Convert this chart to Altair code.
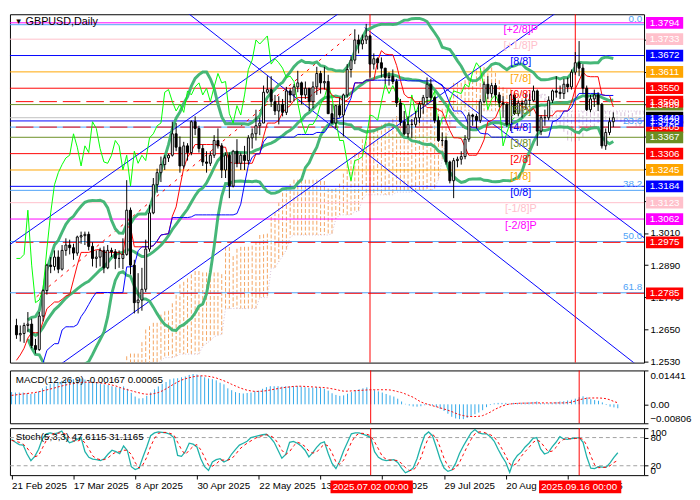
import altair as alt
import pandas as pd

FONT = "Liberation Sans, Arial, sans-serif"
W = 648
HM, HD, HS = 356, 54, 48

# ---------------- price data (GBPUSD daily) ----------------
opens = [1.2665,1.2630,1.2635,1.2665,1.2670,1.2590,1.2575,1.2700,1.2795,1.2890,
1.2885,1.2920,1.2875,1.2945,1.2965,1.2955,1.2935,1.2995,1.3000,1.3005,
1.2960,1.2915,1.2920,1.2945,1.2880,1.2945,1.2940,1.2915,1.2915,1.2930,
1.3095,1.2890,1.2750,1.2760,1.2800,1.2950,1.3085,1.3190,1.3235,1.3265,
1.3290,1.3300,1.3380,1.3330,1.3260,1.3335,1.3310,1.3425,1.3400,1.3325,
1.3275,1.3270,1.3300,1.3355,1.3335,1.3245,1.3300,1.3185,1.3315,1.3270,
1.3300,1.3280,1.3365,1.3380,1.3410,1.3420,1.3535,1.3545,1.3500,1.3465,
1.3490,1.3460,1.3540,1.3525,1.3555,1.3570,1.3525,1.3550,1.3500,1.3555,
1.3605,1.3570,1.3575,1.3455,1.3420,1.3485,1.3450,1.3525,1.3620,1.3655,
1.3730,1.3715,1.3730,1.3745,1.3640,1.3660,1.3645,1.3625,1.3590,1.3595,
1.3575,1.3495,1.3425,1.3380,1.3415,1.3415,1.3440,1.3490,1.3515,1.3565,
1.3515,1.3430,1.3355,1.3355,1.3275,1.3205,1.3280,1.3285,1.3295,1.3360,
1.3450,1.3445,1.3430,1.3500,1.3565,1.3530,1.3560,1.3525,1.3495,1.3490,
1.3415,1.3525,1.3455,1.3495,1.3490,1.3505,1.3505,1.3540,1.3390,1.3440,
1.3440,1.3505,1.3540,1.3535,1.3530,1.3565,1.3555,1.3610,1.3645,1.3625,
1.3550,1.3470,1.3510,1.3525,1.3490,1.3335,1.3385,1.3425]
highs = [1.2690,1.2665,1.2675,1.2715,1.2690,1.2615,1.2715,1.2800,1.2895,1.2920,
1.2945,1.2945,1.2965,1.2990,1.2985,1.2970,1.3000,1.3015,1.3015,1.3015,
1.2975,1.2945,1.2955,1.2960,1.2965,1.2955,1.2950,1.2945,1.2990,1.3207,
1.3105,1.2910,1.2860,1.2880,1.2985,1.3115,1.3215,1.3250,1.3295,1.3300,
1.3305,1.3425,1.3420,1.3370,1.3350,1.3345,1.3430,1.3445,1.3410,1.3340,
1.3315,1.3315,1.3375,1.3400,1.3345,1.3310,1.3310,1.3320,1.3360,1.3310,
1.3335,1.3375,1.3400,1.3470,1.3440,1.3560,1.3595,1.3595,1.3525,1.3520,
1.3510,1.3555,1.3550,1.3565,1.3615,1.3575,1.3575,1.3550,1.3575,1.3630,
1.3615,1.3630,1.3600,1.3490,1.3485,1.3515,1.3530,1.3640,1.3670,1.3770,
1.3750,1.3750,1.3790,1.3750,1.3680,1.3665,1.3665,1.3625,1.3610,1.3620,
1.3585,1.3510,1.3465,1.3445,1.3435,1.3465,1.3500,1.3525,1.3590,1.3585,
1.3520,1.3445,1.3385,1.3370,1.3280,1.3290,1.3295,1.3315,1.3375,1.3460,
1.3455,1.3455,1.3510,1.3575,1.3595,1.3570,1.3570,1.3535,1.3520,1.3495,
1.3530,1.3530,1.3505,1.3505,1.3530,1.3530,1.3560,1.3545,1.3450,1.3470,
1.3520,1.3545,1.3595,1.3560,1.3585,1.3590,1.3620,1.3685,1.3726,1.3640,
1.3560,1.3525,1.3545,1.3535,1.3495,1.3400,1.3440,1.3460]
lows = [1.2615,1.2605,1.2600,1.2640,1.2580,1.2560,1.2570,1.2680,1.2780,1.2860,
1.2870,1.2860,1.2870,1.2925,1.2930,1.2910,1.2925,1.2970,1.2965,1.2945,
1.2885,1.2880,1.2885,1.2860,1.2875,1.2920,1.2875,1.2880,1.2875,1.2925,
1.2855,1.2710,1.2710,1.2720,1.2790,1.2940,1.3080,1.3160,1.3200,1.3245,
1.3275,1.3295,1.3315,1.3235,1.3250,1.3280,1.3300,1.3375,1.3310,1.3260,
1.3235,1.3260,1.3290,1.3325,1.3215,1.3215,1.3140,1.3180,1.3255,1.3245,
1.3245,1.3265,1.3325,1.3355,1.3375,1.3420,1.3530,1.3480,1.3450,1.3415,
1.3445,1.3450,1.3495,1.3500,1.3535,1.3490,1.3510,1.3465,1.3475,1.3525,
1.3530,1.3545,1.3455,1.3420,1.3400,1.3440,1.3370,1.3515,1.3590,1.3640,
1.3680,1.3695,1.3715,1.3590,1.3620,1.3620,1.3590,1.3565,1.3560,1.3565,
1.3480,1.3410,1.3375,1.3365,1.3365,1.3405,1.3420,1.3455,1.3490,1.3500,
1.3420,1.3350,1.3335,1.3265,1.3195,1.3140,1.3255,1.3265,1.3285,1.3350,
1.3410,1.3400,1.3420,1.3495,1.3510,1.3515,1.3500,1.3480,1.3440,1.3405,
1.3390,1.3450,1.3445,1.3440,1.3470,1.3485,1.3500,1.3335,1.3375,1.3410,
1.3430,1.3495,1.3515,1.3510,1.3510,1.3535,1.3545,1.3600,1.3595,1.3530,
1.3465,1.3460,1.3480,1.3465,1.3325,1.3320,1.3375,1.3405]
closes = [1.2630,1.2635,1.2665,1.2670,1.2590,1.2575,1.2700,1.2795,1.2890,1.2885,
1.2920,1.2875,1.2945,1.2965,1.2955,1.2935,1.2995,1.3000,1.3005,1.2960,
1.2915,1.2920,1.2945,1.2880,1.2945,1.2940,1.2915,1.2915,1.2930,1.3095,
1.2890,1.2750,1.2760,1.2800,1.2950,1.3085,1.3190,1.3235,1.3265,1.3290,
1.3300,1.3380,1.3330,1.3260,1.3335,1.3310,1.3425,1.3400,1.3325,1.3275,
1.3270,1.3300,1.3355,1.3335,1.3245,1.3300,1.3185,1.3315,1.3270,1.3300,
1.3280,1.3365,1.3380,1.3410,1.3420,1.3535,1.3545,1.3500,1.3465,1.3490,
1.3460,1.3540,1.3525,1.3555,1.3570,1.3525,1.3550,1.3500,1.3555,1.3605,
1.3570,1.3575,1.3455,1.3420,1.3485,1.3450,1.3525,1.3620,1.3655,1.3730,
1.3715,1.3730,1.3745,1.3640,1.3660,1.3645,1.3625,1.3590,1.3595,1.3575,
1.3495,1.3425,1.3380,1.3415,1.3415,1.3440,1.3490,1.3515,1.3565,1.3515,
1.3430,1.3355,1.3355,1.3275,1.3205,1.3280,1.3285,1.3295,1.3360,1.3450,
1.3445,1.3430,1.3500,1.3565,1.3530,1.3560,1.3525,1.3495,1.3490,1.3415,
1.3525,1.3455,1.3495,1.3490,1.3505,1.3505,1.3540,1.3390,1.3440,1.3440,
1.3505,1.3540,1.3535,1.3530,1.3565,1.3555,1.3610,1.3645,1.3625,1.3550,
1.3470,1.3510,1.3525,1.3490,1.3335,1.3385,1.3425,1.3440]

# Ichimoku values at the first bars (their windows reach before the visible data)
tenkan_early = [1.2535, 1.2555, 1.2580, 1.2618, 1.2638, 1.2638, 1.2638, 1.2680]
kijun_early = [1.2470, 1.2470, 1.2470, 1.2482, 1.2482, 1.2482, 1.2482, 1.2525, 1.2572, 1.2585,
               1.2597, 1.2597, 1.2648, 1.2660, 1.2660, 1.2660, 1.2668, 1.2698, 1.2718, 1.2743,
               1.2768, 1.2788, 1.2788, 1.2788, 1.2788]
spanb_early = [1.2445, 1.2445, 1.2445, 1.2445, 1.2445, 1.2445, 1.2445, 1.2450, 1.2498, 1.2510,
               1.2523, 1.2523, 1.2533, 1.2545, 1.2545, 1.2545, 1.2550, 1.2558, 1.2558, 1.2558,
               1.2558, 1.2558, 1.2558, 1.2588, 1.2598, 1.2608, 1.2623, 1.2628, 1.2632, 1.2728,
               1.2728, 1.2728, 1.2728, 1.2728, 1.2728, 1.2728, 1.2728, 1.2728, 1.2769, 1.2769,
               1.2769, 1.2878, 1.2880, 1.2903, 1.2923, 1.2948]

# ---------------- MACD(12,26,9) ----------------
macd_hist = [0.0052,0.0050,0.0050,0.0050,0.0047,0.0044,0.0047,0.0055,0.0068,0.0077,
0.0086,0.0090,0.0095,0.0100,0.0103,0.0104,0.0107,0.0109,0.0109,0.0105,
0.0100,0.0096,0.0093,0.0088,0.0085,0.0082,0.0077,0.0073,0.0071,0.0076,
0.0066,0.0049,0.0033,0.0025,0.0026,0.0036,0.0050,0.0064,0.0076,0.0087,
0.0095,0.0106,0.0110,0.0111,0.0115,0.0118,0.0125,0.0129,0.0127,0.0122,
0.0115,0.0110,0.0107,0.0102,0.0092,0.0085,0.0068,0.0060,0.0052,0.0048,
0.0046,0.0048,0.0050,0.0055,0.0058,0.0066,0.0073,0.0077,0.0077,0.0077,
0.0075,0.0077,0.0077,0.0077,0.0078,0.0075,0.0073,0.0070,0.0071,0.0073,
0.0070,0.0066,0.0058,0.0047,0.0040,0.0036,0.0038,0.0045,0.0052,0.0060,
0.0064,0.0068,0.0072,0.0064,0.0060,0.0055,0.0050,0.0044,0.0038,0.0033,
0.0024,0.0012,0.0002,-0.0005,-0.0009,-0.0010,-0.0008,-0.0004,-0.0003,-0.0005,
-0.0012,-0.0020,-0.0028,-0.0040,-0.0053,-0.0060,-0.0063,-0.0063,-0.0058,-0.0050,
-0.0042,-0.0035,-0.0025,-0.0012,-0.0003,0.0004,0.0006,0.0006,0.0006,0.0003,
0.0006,0.0006,0.0007,0.0008,0.0009,0.0010,0.0012,0.0005,0.0004,0.0004,
0.0007,0.0010,0.0012,0.0013,0.0016,0.0019,0.0024,0.0030,0.0034,0.0030,
0.0022,0.0018,0.0015,0.0008,-0.0003,-0.0010,-0.0013,-0.00167]
macd_signal = [0.0038,0.0040,0.0042,0.0044,0.0046,0.0048,0.0050,0.0053,0.0057,0.0061,
0.0065,0.0069,0.0074,0.0078,0.0082,0.0086,0.0089,0.0091,0.0093,0.0094,
0.0094,0.0093,0.0092,0.0091,0.0089,0.0086,0.0082,0.0078,0.0072,0.0066,
0.0062,0.0058,0.0053,0.0049,0.0045,0.0043,0.0043,0.0046,0.0050,0.0057,
0.0066,0.0076,0.0086,0.0095,0.0103,0.0109,0.0113,0.0117,0.0120,0.0121,
0.0121,0.0119,0.0116,0.0112,0.0106,0.0100,0.0093,0.0085,0.0078,0.0071,
0.0065,0.0060,0.0057,0.0055,0.0055,0.0056,0.0058,0.0061,0.0064,0.0067,
0.0070,0.0072,0.0074,0.0076,0.0077,0.0077,0.0076,0.0075,0.0074,0.0073,
0.0072,0.0071,0.0069,0.0066,0.0063,0.0059,0.0056,0.0056,0.0057,0.0058,
0.0059,0.0060,0.0061,0.0062,0.0062,0.0062,0.0062,0.0062,0.0061,0.0058,
0.0054,0.0050,0.0044,0.0037,0.0030,0.0020,0.0010,0.0004,-0.0001,-0.0006,
-0.0010,-0.0015,-0.0020,-0.0025,-0.0031,-0.0038,-0.0044,-0.0048,-0.0051,-0.0052,
-0.0052,-0.0051,-0.0048,-0.0041,-0.0033,-0.0023,-0.0015,-0.0008,-0.0002,0.0001,
0.0003,0.0004,0.0005,0.0005,0.0005,0.0006,0.0006,0.0006,0.0006,0.0006,
0.0006,0.0006,0.0006,0.0006,0.0007,0.0009,0.0014,0.0019,0.0023,0.0026,
0.0027,0.0027,0.0027,0.0026,0.0024,0.0019,0.0012,0.00065]

# ---------------- Stochastic(5,3,3) ----------------
stoch_k = [76,70,65,64,45,31,40,55,78,88,
90,88,90,94,78,69,72,76,80,50,
38,34,33,31,35,45,53,50,46,62,
52,18,12,15,38,60,84,90,92,91,
90,87,80,42,40,50,68,66,60,35,
18,10,28,33,35,28,32,45,55,64,
68,72,80,82,84,86,87,80,70,53,
36,44,70,72,68,62,53,39,48,59,
68,71,46,25,14,30,52,70,88,90,
90,87,84,80,50,38,33,31,32,33,
27,15,5,9,15,35,62,85,92,84,
60,34,15,8,11,25,46,62,76,90,
97,90,88,88,82,72,55,40,27,6,
30,42,49,60,68,78,80,56,45,48,
60,70,82,77,76,78,79,80,70,38,
15,14,18,17,17,26,38,47.6115]
stoch_d = [74,72,70,66,58,47,39,42,58,74,
85,89,89,91,87,80,73,72,76,69,
56,41,35,33,33,37,44,49,50,53,
53,44,27,15,22,38,61,78,89,91,
91,89,86,70,54,44,53,61,65,54,
38,21,19,24,32,32,32,35,44,55,
62,68,73,78,82,84,86,84,79,68,
53,44,50,62,70,67,61,51,47,49,
58,66,62,47,28,23,32,51,70,83,
89,89,87,84,71,56,40,34,32,32,
31,25,16,10,10,20,37,61,80,87,
79,59,36,19,11,15,27,44,61,76,
88,92,92,89,86,81,70,56,41,24,
21,26,40,50,59,69,75,71,60,50,
51,59,71,76,78,77,78,79,76,63,
41,22,16,16,17,20,27,31.1165]

# ---------------- axis labels ----------------
tick_index = [0, 16, 32, 48, 64, 80, 96, 112, 128, 144]
tick_text = ["21 Feb 2025", "17 Mar 2025", "8 Apr 2025", "30 Apr 2025", "22 May 2025",
             "13 Jun 2025", "7 Jul 2025", "29 Jul 2025", "20 Aug 2025", "11 Sep 2025"]
price_ticks = [1.2530, 1.2650, 1.2770, 1.2890, 1.3010, 1.3130, 1.3250, 1.3370, 1.3490, 1.3610, 1.3730]

# ---------------- levels ----------------
murrey_prices = [1.3794, 1.3733, 1.3672, 1.3611, 1.3550, 1.3489, 1.3428, 1.3367, 1.3306, 1.3245, 1.3184, 1.3123, 1.3062]
murrey_names = ["[+2/8]P", "[+1/8]P", "[8/8]", "[7/8]", "[6/8]", "[5/8]", "[4/8]", "[3/8]", "[2/8]", "[1/8]", "[0/8]", "[-1/8]P", "[-2/8]P"]
murrey_colors = ["#FF00FF", "#FFC0CB", "#0000FF", "#FFA500", "#FF0000", "#6B8E23", "#0000FF", "#6B8E23", "#FF0000", "#FFA500", "#0000FF", "#FFC0CB", "#FF00FF"]
fib_prices = [1.3787, 1.3405, 1.3169, 1.2978, 1.2787]
fib_names = ["0.0", "23.6", "38.2", "50.0", "61.8"]
sr_prices = [1.3500, 1.3405, 1.2975, 1.2785]
bid_price = [1.3440]
box_prices = [1.3794, 1.3733, 1.3672, 1.3611, 1.3550, 1.3489, 1.3500, 1.3440, 1.3405, 1.3428, 1.3367, 1.3306, 1.3245, 1.3184, 1.3123, 1.3062, 1.2975, 1.2785]
box_colors = ["#FF00FF", "#FFC0CB", "#0000FF", "#FFA500", "#FF0000", "#6B8E23", "#FF0000", "#000000", "#FF0000", "#0000FF", "#6B8E23", "#FF0000", "#FFA500", "#0000FF", "#FFC0CB", "#FF00FF", "#FF0000", "#FF0000"]

# diagonal lines (bar index, price)
diag_id = ["A", "A", "B", "B", "E", "E", "C", "C"]
diag_i = [-2.0, 90.0, 40.0, 165.0, 10.0, 147.0, 91.6, 166.0]
diag_p = [1.2964, 1.3881, 1.3887, 1.2497, 1.2504, 1.3882, 1.3776, 1.2983]
red_diag_i = [5.3, 89.1]
red_diag_p = [1.2772, 1.3765]

marker_index = [93, 147]
marker_text = ["2025.07.02 00:00", "2025.09.16 00:00"]

# ---------------- build ----------------
n = len(closes)
idx = list(range(n))
price = pd.DataFrame({"i": idx, "o": opens, "h": highs, "l": lows, "c": closes})
ind = pd.DataFrame({"i": idx, "hist": macd_hist, "sig": macd_signal, "k": stoch_k, "d": stoch_d})
tk_early = pd.DataFrame({"i": list(range(len(tenkan_early))), "te": tenkan_early})
kj_early = pd.DataFrame({"i": list(range(len(kijun_early))), "ke": kijun_early})
sb_early = pd.DataFrame({"i": list(range(len(spanb_early))), "be": spanb_early})

xs = alt.Scale(domain=[-0.425, 163.8], nice=False, zero=False)
ys = alt.Scale(domain=[1.25264, 1.3826], nice=False, zero=False)
ms = alt.Scale(domain=[-0.00806, 0.01441], nice=False, zero=False)
ss = alt.Scale(domain=[0, 100], nice=False, zero=False)

AX = dict(tickSize=4, labelPadding=2, grid=False, domain=False, labelOverlap=False, labelFont=FONT,
          labelFontSize=10, labelColor="black", tickColor="black", title=None)
y_axis_main = alt.Axis(orient="right", values=price_ticks, format=".4f", **AX)
macd_axis = alt.Axis(orient="right", values=[-0.00806, 0, 0.01441],
                     labelExpr="datum.value == 0 ? '0.00' : format(datum.value, '.5f')",
                     labelFlush=True, **AX)
sto_axis = alt.Axis(orient="right", values=[0, 20, 80, 100], labelFlush=True, **AX)
lab_expr = " : ".join("datum.value == %d ? '%s'" % (v, t) for v, t in zip(tick_index, tick_text)) + " : ''"
x_axis = alt.Axis(values=tick_index, labelExpr=lab_expr, labelAlign="left", labelFlush=False, **AX)


def X(f="i"):
    return alt.X(f + ":Q", scale=xs, axis=None)


def XS(f="i"):
    return alt.X(f + ":Q", scale=xs, axis=x_axis)


def Y(f):
    return alt.Y(f + ":Q", scale=ys, axis=y_axis_main)


def YM(f):
    return alt.Y(f + ":Q", scale=ms, axis=macd_axis)


def YS(f):
    return alt.Y(f + ":Q", scale=ss, axis=sto_axis)


srt = [alt.SortField("i")]
pbase = alt.Chart(price)

ichi = pbase.transform_window(
    h9="max(h)", l9="min(l)", frame=[-8, 0], sort=srt
).transform_window(
    h26="max(h)", l26="min(l)", frame=[-25, 0], sort=srt
).transform_window(
    h52="max(h)", l52="min(l)", frame=[-51, 0], sort=srt
).transform_lookup(
    lookup="i", from_=alt.LookupData(tk_early, key="i", fields=["te"])
).transform_lookup(
    lookup="i", from_=alt.LookupData(kj_early, key="i", fields=["ke"])
).transform_lookup(
    lookup="i", from_=alt.LookupData(sb_early, key="i", fields=["be"])
).transform_calculate(
    tenkan="isValid(datum.te) ? datum.te : (datum.h9 + datum.l9) / 2",
    kijun="isValid(datum.ke) ? datum.ke : (datum.h26 + datum.l26) / 2",
    spanA="(datum.tenkan + datum.kijun) / 2",
    spanB="isValid(datum.be) ? datum.be : (datum.h52 + datum.l52) / 2",
    ish="datum.i + 26",
    cc="datum.spanA >= datum.spanB ? '#F4A460' : '#D8BFD8'",
)
cloud = ichi.mark_rule(strokeDash=[4, 2], strokeWidth=1, clip=True).encode(
    x=X("ish"), y=Y("spanA"), y2="spanB:Q", color=alt.Color("cc:N", scale=None))
spanb_line = ichi.mark_line(strokeDash=[1, 2], strokeWidth=1, color="#D8BFD8", clip=True).encode(
    x=X("ish"), y=Y("spanB"))
tenkan = ichi.mark_line(color="#FF0000", strokeWidth=1, clip=True).encode(x=X(), y=Y("tenkan"))
kijun = ichi.mark_line(color="#0000FF", strokeWidth=1, clip=True).encode(x=X(), y=Y("kijun"))

chikou = pbase.transform_window(
    window=[alt.WindowFieldDef(op="lead", field="c", param=26, **{"as": "chik"})], sort=srt
).transform_filter("isValid(datum.chik)").mark_line(color="#00FF00", strokeWidth=1, clip=True).encode(
    x=X(), y=Y("chik"))

bb = pbase.transform_window(
    sma="mean(c)", sd="stdevp(c)", cnt="count()", frame=[-19, 0], sort=srt
).transform_filter("datum.cnt >= 4").transform_calculate(
    up="datum.sma + 2 * datum.sd", lo="datum.sma - 2 * datum.sd"
).transform_fold(["up", "sma", "lo"], as_=["band", "v"]).mark_line(
    color="#3CB371", strokeWidth=3, opacity=0.95, clip=True).encode(x=X(), y=Y("v"), detail="band:N")

mur = pd.DataFrame({"p": murrey_prices, "name": murrey_names, "col": murrey_colors})
murrey_lines = alt.Chart(mur).mark_rule(strokeWidth=1).encode(
    y=Y("p"), color=alt.Color("col:N", scale=None))
murrey_text = alt.Chart(mur).mark_text(font=FONT, fontSize=11, baseline="top", dy=1, align="center").encode(
    x=alt.value(522), y=Y("p"), text="name:N", color=alt.Color("col:N", scale=None))

fib = pd.DataFrame({"p": fib_prices, "name": fib_names})
fib_lines = alt.Chart(fib).mark_rule(strokeWidth=1, color="#4FA3F7").encode(y=Y("p"))
fib_text = alt.Chart(fib).mark_text(font=FONT, fontSize=10, baseline="bottom", dy=-1, align="right",
                                    color="#4FA3F7").encode(x=alt.value(W - 2), y=Y("p"), text="name:N")

sr_lines = alt.Chart(pd.DataFrame({"p": sr_prices})).mark_rule(
    strokeWidth=1, color="#FF0000", strokeDash=[18, 6]).encode(y=Y("p"))
bid_line = alt.Chart(pd.DataFrame({"p": bid_price})).mark_rule(strokeWidth=1, color="#C0C0C0").encode(y=Y("p"))

diag_df = pd.DataFrame({"line": diag_id, "i": diag_i, "p": diag_p})
diag = alt.Chart(diag_df).mark_line(color="#0000FF", strokeWidth=1, clip=True).encode(
    x=X(), y=Y("p"), detail="line:N")
red_diag = alt.Chart(pd.DataFrame({"i": red_diag_i, "p": red_diag_p})).mark_line(
    color="#FF0000", strokeWidth=1, strokeDash=[3, 5], clip=True).encode(x=X(), y=Y("p"))

vdf = pd.DataFrame({"v": marker_index})
vlines = alt.Chart(vdf).mark_rule(color="#FF0000", strokeWidth=1).encode(x=X("v"))
vlines_s = alt.Chart(vdf).mark_rule(color="#FF0000", strokeWidth=1).encode(x=XS("v"))

wicks = pbase.mark_rule(color="black", strokeWidth=1, clip=True).encode(
    x=X(), y=Y("l"), y2="h:Q")
bodies = pbase.mark_bar(size=2, stroke="black", strokeWidth=1, clip=True).encode(
    x=X(), y=Y("o"), y2="c:Q",
    fill=alt.condition("datum.c >= datum.o", alt.value("white"), alt.value("black")))

boxes_df = pd.DataFrame({"p": box_prices, "col": box_colors,
                         "t": ["%.4f" % v for v in box_prices]})
boxes = alt.Chart(boxes_df).mark_rule(strokeWidth=12, strokeCap="butt").encode(
    x=alt.value(W + 2), x2=alt.value(W + 40), y=Y("p"), color=alt.Color("col:N", scale=None))
box_text = alt.Chart(boxes_df).mark_text(font=FONT, fontSize=10, color="white", align="center",
                                         baseline="middle").encode(
    x=alt.value(W + 21), y=Y("p"), text="t:N")

title_df = pd.DataFrame({"t": ["GBPUSD,Daily"], "g": ["\u25bc"]})
title_arrow = alt.Chart(title_df).mark_text(fontSize=8, color="black", align="left", baseline="middle").encode(
    x=alt.value(5), y=alt.value(8), text="g:N")
title = alt.Chart(title_df).mark_text(font=FONT, fontSize=11, color="black", align="left",
                                      baseline="middle").encode(x=alt.value(16), y=alt.value(8), text="t:N")

main = alt.layer(
    cloud, spanb_line, fib_lines, murrey_lines, sr_lines, bid_line, diag, red_diag, vlines,
    bb, chikou, tenkan, kijun, wicks, bodies, murrey_text, fib_text, boxes, box_text,
    title_arrow, title
).properties(width=W, height=HM)

# ---------------- MACD panel ----------------
ibase = alt.Chart(ind)
hist = ibase.mark_rule(color="#2FA8E8", strokeWidth=1).encode(
    x=X(), y=YM("hist"), y2=alt.datum(0))
sig = ibase.mark_line(color="#FF0000", strokeWidth=1, strokeDash=[2, 2]).encode(
    x=X(), y=YM("sig"))
macd_lbl = alt.Chart(pd.DataFrame({"t": ["MACD(12,26,9) -0.00167 0.00065"]})).mark_text(
    font=FONT, fontSize=10, color="black", align="left", baseline="middle").encode(
    x=alt.value(6), y=alt.value(10), text="t:N")
macd = alt.layer(hist, sig, vlines, macd_lbl).properties(width=W, height=HD)

# ---------------- Stochastic panel ----------------
lvl = alt.Chart(pd.DataFrame({"s": [20, 80]})).mark_rule(
    color="#A0A0A0", strokeDash=[4, 3], strokeWidth=1).encode(y=YS("s"))
kline = ibase.mark_line(color="#20B2AA", strokeWidth=1.3).encode(x=XS(), y=YS("k"))
dline = ibase.mark_line(color="#FF0000", strokeWidth=1, strokeDash=[3, 3]).encode(x=XS(), y=YS("d"))
sto_lbl = alt.Chart(pd.DataFrame({"t": ["Stoch(5,3,3) 47.6115 31.1165"]})).mark_text(
    font=FONT, fontSize=10, color="black", align="left", baseline="middle").encode(
    x=alt.value(6), y=alt.value(9), text="t:N")
mk = pd.DataFrame({"i": marker_index, "t": marker_text})
mk_box = alt.Chart(mk).transform_calculate(
    a="datum.i - 10.4", b="datum.i + 10.9"
).mark_rule(color="#FF0000", strokeWidth=13, strokeCap="butt").encode(
    x=XS("a"), x2="b:Q", y=alt.value(HS + 12))
mk_text = alt.Chart(mk).mark_text(font=FONT, fontSize=10, color="white", align="center",
                                  baseline="middle").encode(x=XS("i"), y=alt.value(HS + 12), text="t:N")
sto = alt.layer(lvl, kline, dline, vlines_s, sto_lbl, mk_box, mk_text).properties(width=W, height=HS)

chart = alt.vconcat(main, macd, sto, spacing=2).configure_view(
    stroke="black", strokeWidth=1
).properties(
    padding={"left": 0, "top": 0, "right": 0, "bottom": 0}, background="white"
)

chart.save("out.html", embed_options={"renderer": "svg", "actions": False})
